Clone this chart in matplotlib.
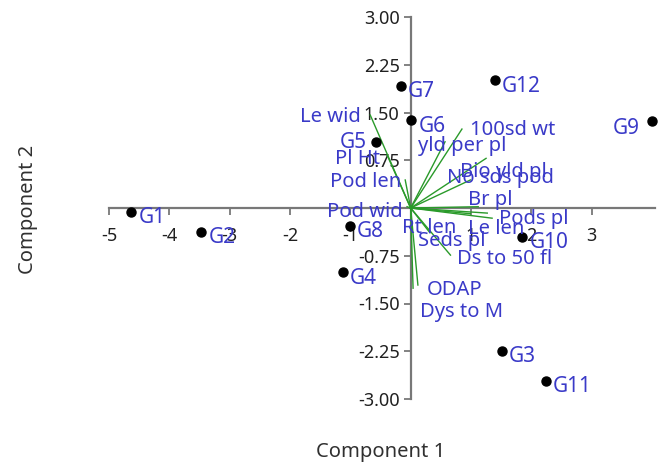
import matplotlib
matplotlib.use("Agg")
import matplotlib.pyplot as plt

plt.rcParams['font.family'] = ['Noto Sans', 'DejaVu Sans']
plt.rcParams['axes.unicode_minus'] = False

# PCA scores (component 1, component 2)
genotypes = ['G1', 'G2', 'G3', 'G4', 'G5', 'G6', 'G7', 'G8', 'G9', 'G10', 'G11', 'G12']
pc1 = [-4.63, -3.47, 1.51, -1.12, -0.58, 0.01, -0.16, -1.01, 4.00, 1.85, 2.24, 1.39]
pc2 = [-0.06, -0.37, -2.24, -1.01, 1.03, 1.38, 1.92, -0.28, 1.36, -0.45, -2.71, 2.01]

# loadings (scaled)
traits = ['Le wid', 'Pl Ht', 'Pod len', 'Pod wid', '100sd wt', 'yld per pl', 'Bio yld pl',
          'No sds pod', 'Br pl', 'Pods pl', 'Le len', 'Rt len', 'Seds pl', 'Ds to 50 fl',
          'ODAP', 'Dys to M']
load1 = [-0.67, -0.39, -0.09, -0.06, 0.85, 0.57, 1.25, 0.99, 1.12, 1.35, 1.27, 0.99, 0.32, 0.66, 0.12, 0.04]
load2 = [1.46, 0.83, 0.44, 0.02, 1.24, 1.04, 0.78, 0.44, 0.02, -0.16, -0.08, -0.09, -0.39, -0.74, -1.21, -1.26]

xticks = [-5, -4, -3, -2, -1, 0, 1, 2, 3]
yticks = [-3.0, -2.25, -1.5, -0.75, 0, 0.75, 1.5, 2.25, 3.0]

# label placement (offset pixels, alignment)
point_lab = {'G5': (-9, 0, 'right'), 'G9': (-12, -7, 'right')}
trait_lab = {
    'Le wid': (-9, -2, 'right'), 'Pl Ht': (-7, -4, 'right'), 'Pod len': (-4, -2, 'right'),
    'Pod wid': (-4, -5, 'right'), '100sd wt': (8, -1, 'left'), 'yld per pl': (-27, -4, 'left'),
    'Bio yld pl': (-26, -14, 'left'), 'No sds pod': (-23, 2, 'left'), 'Br pl': (-10, 7, 'left'),
    'Pods pl': (7, -1, 'left'), 'Le len': (-19, -16, 'left'), 'Rt len': (-68, -14, 'left'),
    'Seds pl': (-12, -8, 'left'), 'Ds to 50 fl': (7, -4, 'left'), 'ODAP': (9, -5, 'left'),
    'Dys to M': (7, -24, 'left'),
}

blue = '#3a3ac8'
axis_gray = '#787878'

fig = plt.figure(figsize=(6.61, 4.63), dpi=100)
ax = fig.add_axes([109 / 661, 1 - 399 / 463, (655 - 109) / 661, (399 - 17) / 463])

for name, x, y in zip(traits, load1, load2):
    ax.plot([0, x], [0, y], color='#2a9a2a', lw=1.0, zorder=2)
    dx, dy, ha = trait_lab[name]
    ax.annotate(name, (x, y), xytext=(dx, dy), textcoords='offset pixels',
                ha=ha, va='center', color=blue, fontsize=14.5, zorder=4)

ax.plot(pc1, pc2, 'o', color='black', ms=6.5, zorder=3, clip_on=False)
for name, x, y in zip(genotypes, pc1, pc2):
    dx, dy, ha = point_lab.get(name, (7, -6, 'left'))
    ax.annotate(name, (x, y), xytext=(dx, dy), textcoords='offset pixels',
                ha=ha, va='center', color=blue, fontsize=15, zorder=4)

ax.set_xlim(-5.0, 4.05)
ax.set_ylim(-3.0, 3.0)
ax.spines['left'].set_position(('data', 0))
ax.spines['bottom'].set_position(('data', 0))
ax.spines['right'].set_visible(False)
ax.spines['top'].set_visible(False)
for s in ['left', 'bottom']:
    ax.spines[s].set_color(axis_gray)
    ax.spines[s].set_linewidth(1.6)
    ax.spines[s].set_zorder(1)

ax.set_xticks(xticks)
ax.set_xticklabels(['' if t == 0 else str(t) for t in xticks])
ax.set_yticks(yticks)
ax.set_yticklabels(['' if t == 0 else f'{t:.2f}' for t in yticks])
ax.tick_params(axis='both', direction='out', length=5, width=1.3, color=axis_gray,
               labelsize=13, labelcolor='#202020', pad=3)
ax.tick_params(axis='x', pad=9)
ax.patch.set_visible(False)

fig.text(381 / 661, 1 - 452 / 463, 'Component 1', ha='center', va='center',
         fontsize=14.5, color='#303030')
fig.text(28 / 661, 1 - 209 / 463, 'Component 2', ha='center', va='center',
         rotation=90, fontsize=14.5, color='#303030')

fig.savefig('out.png', dpi=100)
